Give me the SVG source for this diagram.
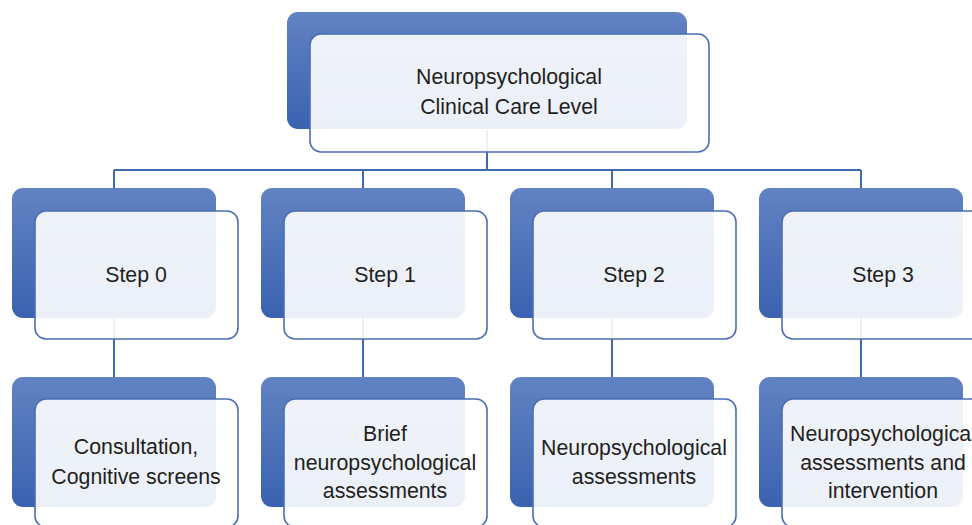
<svg xmlns="http://www.w3.org/2000/svg" width="972" height="525" viewBox="0 0 972 525">
<defs>
<linearGradient id="blueGrad" x1="0" y1="0" x2="0" y2="1">
<stop offset="0" stop-color="#6283C2"/>
<stop offset="1" stop-color="#3A62B0"/>
</linearGradient>
</defs>
<style>
.back{fill:url(#blueGrad);}
.front{fill:#ffffff;fill-opacity:0.9;stroke:#4A6EB4;stroke-width:1.6;}
.conn{fill:none;stroke:#4268B0;stroke-width:2;}
.lbl{font-family:"Liberation Sans",Arial,sans-serif;font-size:21.3px;fill:#231F20;text-anchor:middle;}
</style>
<rect width="972" height="525" fill="#ffffff"/>
<g id="connectors">
<path class="conn" d="M487,130 V170 M114,170 H861 M114,170 V188 M363,170 V188 M612,170 V188 M861,170 V188"/>
<path class="conn" d="M114,318 V377 M363,318 V377 M612,318 V377 M861,318 V377"/>
</g>
<g id="root">
<rect class="back" x="287" y="12" width="400" height="117" rx="11"/>
<rect class="front" x="310" y="34" width="399" height="118" rx="11"/>
<text class="lbl" x="509" y="84">Neuropsychological</text>
<text class="lbl" x="509" y="114">Clinical Care Level</text>
</g>
<g id="step0">
<rect class="back" x="12" y="188" width="204" height="130" rx="11"/>
<rect class="front" x="35" y="211" width="203" height="128" rx="11"/>
<text class="lbl" x="136" y="282">Step 0</text>
</g>
<g id="step1">
<rect class="back" x="261" y="188" width="204" height="130" rx="11"/>
<rect class="front" x="284" y="211" width="203" height="128" rx="11"/>
<text class="lbl" x="385" y="282">Step 1</text>
</g>
<g id="step2">
<rect class="back" x="510" y="188" width="204" height="130" rx="11"/>
<rect class="front" x="533" y="211" width="203" height="128" rx="11"/>
<text class="lbl" x="634" y="282">Step 2</text>
</g>
<g id="step3">
<rect class="back" x="759" y="188" width="204" height="130" rx="11"/>
<rect class="front" x="782" y="211" width="203" height="128" rx="11"/>
<text class="lbl" x="883" y="282">Step 3</text>
</g>
<g id="detail0">
<rect class="back" x="12" y="377" width="204" height="130" rx="11"/>
<rect class="front" x="35" y="399" width="203" height="128" rx="11"/>
<text class="lbl" x="136" y="454">Consultation,</text>
<text class="lbl" x="136" y="484">Cognitive screens</text>
</g>
<g id="detail1">
<rect class="back" x="261" y="377" width="204" height="130" rx="11"/>
<rect class="front" x="284" y="399" width="203" height="128" rx="11"/>
<text class="lbl" x="385" y="441">Brief</text>
<text class="lbl" x="385" y="470">neuropsychological</text>
<text class="lbl" x="385" y="498">assessments</text>
</g>
<g id="detail2">
<rect class="back" x="510" y="377" width="204" height="130" rx="11"/>
<rect class="front" x="533" y="399" width="203" height="128" rx="11"/>
<text class="lbl" x="634" y="455">Neuropsychological</text>
<text class="lbl" x="634" y="484">assessments</text>
</g>
<g id="detail3">
<rect class="back" x="759" y="377" width="204" height="130" rx="11"/>
<rect class="front" x="782" y="399" width="203" height="128" rx="11"/>
<text class="lbl" x="883" y="441">Neuropsychological</text>
<text class="lbl" x="883" y="470">assessments and</text>
<text class="lbl" x="883" y="498">intervention</text>
</g>
</svg>
